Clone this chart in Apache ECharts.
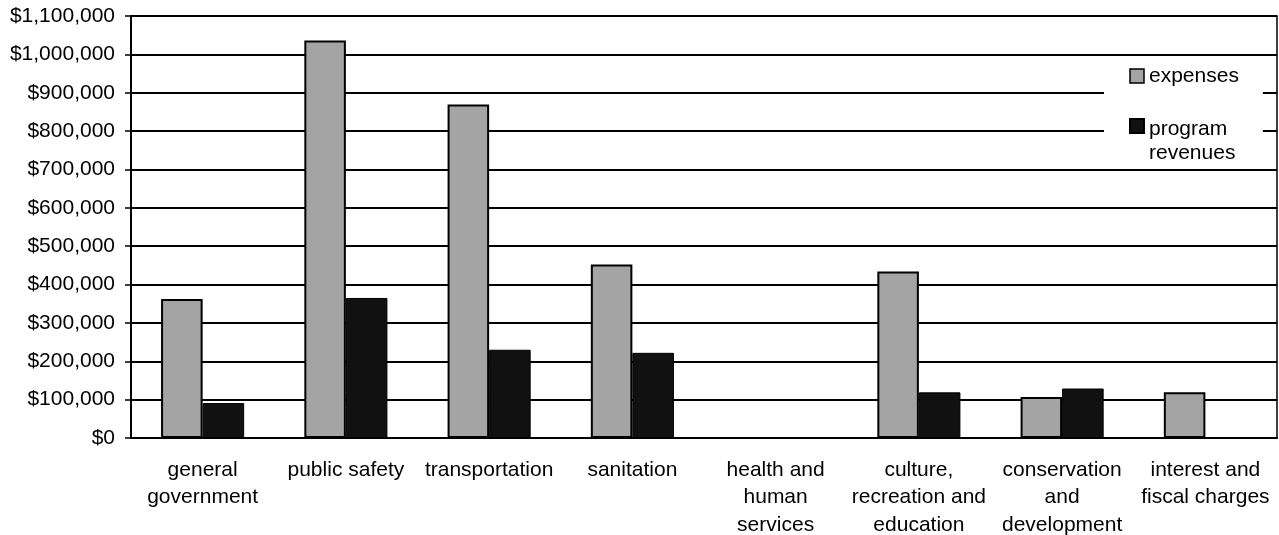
<!DOCTYPE html>
<html>
<head>
<meta charset="utf-8">
<script src="https://cdn.jsdelivr.net/npm/echarts@6/dist/echarts.min.js"></script>
<style>
html,body{margin:0;padding:0;background:#fff;}
#chart{width:1279px;height:535px;}
</style>
</head>
<body>
<div id="chart"></div>
<script>
var categories = ['general\ngovernment', 'public safety', 'transportation', 'sanitation', 'health and\nhuman\nservices', 'culture,\nrecreation and\neducation', 'conservation\nand\ndevelopment', 'interest and\nfiscal charges'];
var expenses = [362000, 1036000, 869000, 452000, 0, 434000, 107000, 119000];
var programRevenues = [91000, 365000, 230000, 222000, 0, 119000, 129000, 0];
var yMin = 0, yMax = 1100000, yStep = 100000;

function money(v) {
  var s = String(Math.round(v));
  return '$' + s.replace(/\B(?=(\d{3})+(?!\d))/g, ',');
}
function barData(arr) {
  return arr.map(function (v) {
    return v === 0 ? {value: v, itemStyle: {borderWidth: 0}} : v;
  });
}

var chart = echarts.init(document.getElementById('chart'), null, {renderer: 'canvas'});
var font = 'Liberation Sans, Arial, sans-serif';
chart.setOption({
  animation: false,
  backgroundColor: '#fff',
  textStyle: {fontFamily: font, color: '#000'},
  grid: {left: 131, right: 2, top: 16, bottom: 97, outerBoundsMode: 'none', containLabel: false, show: true, borderColor: '#000', borderWidth: 1.5, backgroundColor: 'transparent'},
  legend: {
    orient: 'vertical',
    left: 1104,
    top: 58,
    backgroundColor: '#fff',
    padding: [6, 24, 2, 25],
    itemWidth: 14,
    itemHeight: 14,
    itemGap: -1,
    icon: 'rect',
    textStyle: {
      fontFamily: font, fontSize: 21, color: '#000', lineHeight: 24,
      rich: {
        e: {fontSize: 21, lineHeight: 30},
        p: {fontFamily: font, fontSize: 21, color: '#000', lineHeight: 24}
      }
    },
    formatter: function (n) {
      return n === 'program revenues' ? '{e| }\n{p|program}\n{p|revenues}' : n;
    },
    data: [
      {name: 'expenses', itemStyle: {borderColor: '#000', borderWidth: 1.5}},
      {name: 'program revenues'}
    ]
  },
  xAxis: {
    type: 'category',
    data: categories,
    axisLine: {show: true, lineStyle: {color: '#000', width: 2}},
    axisTick: {show: false},
    axisLabel: {fontFamily: font, fontSize: 21, color: '#000', lineHeight: 27.5, margin: 18, interval: 0}
  },
  yAxis: {
    type: 'value',
    min: yMin,
    max: yMax,
    interval: yStep,
    axisLine: {show: true, lineStyle: {color: '#000', width: 2}},
    axisTick: {show: true, length: 6, lineStyle: {color: '#000', width: 1.5}},
    splitLine: {show: true, lineStyle: {color: '#000', width: 2}},
    axisLabel: {fontFamily: font, fontSize: 21, color: '#000', margin: 16, formatter: money}
  },
  series: [
    {
      name: 'expenses',
      type: 'bar',
      data: barData(expenses),
      barGap: '0%',
      barCategoryGap: '42%',
      itemStyle: {color: '#a4a4a4', borderColor: '#000', borderWidth: 2}
    },
    {
      name: 'program revenues',
      type: 'bar',
      data: barData(programRevenues),
      itemStyle: {color: '#111', borderColor: '#000', borderWidth: 1}
    }
  ]
});
</script>
</body>
</html>
